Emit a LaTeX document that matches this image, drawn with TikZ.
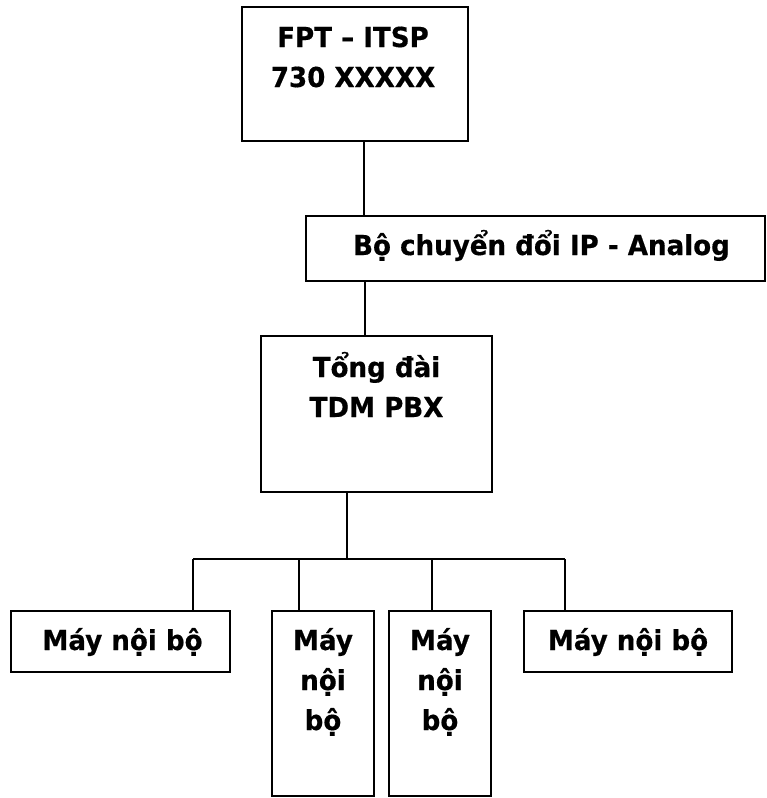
\documentclass[tikz,border=0pt]{standalone}
\usepackage{fontspec}
\setmainfont{DejaVu Sans}[FakeStretch=0.95, BoldFeatures={FakeBold=0.5}]
\usetikzlibrary{calc}
\begin{document}
\begin{tikzpicture}[x=1pt,y=-1pt,
  box/.style={draw, line width=2pt, inner sep=0pt, outer sep=0pt, anchor=north west},
  lbl/.style={font=\bfseries\fontsize{27.5}{40}\selectfont, align=center, anchor=base, inner sep=0pt},
  wire/.style={line width=1.5pt}]
\useasboundingbox (0,0) rectangle (767,798);
% boxes
\node[box, minimum width=226pt, minimum height=134pt] (fpt) at (242,7) {};
\node[box, minimum width=459pt, minimum height=65pt] (conv) at (306,216) {};
\node[box, minimum width=231pt, minimum height=156pt] (pbx) at (261,336) {};
\node[box, minimum width=219pt, minimum height=61pt] (ma) at (11,611) {};
\node[box, minimum width=102pt, minimum height=185pt] (mb) at (272,611) {};
\node[box, minimum width=102pt, minimum height=185pt] (mc) at (389,611) {};
\node[box, minimum width=208pt, minimum height=61pt] (md) at (524,611) {};
% labels (base anchor = baseline of last line)
\node[lbl] (fptt) at ($(fpt.north)+(-2,80)$) {FPT – ITSP\\730 XXXXX};
\node[lbl] (convt) at ($(conv.north)+(6,39)$) {Bộ chuyển đổi IP - Analog};
\node[lbl] (pbxt) at ($(pbx.north)+(0,81)$) {Tổng đài\\TDM PBX};
\node[lbl] (mat) at ($(ma.north)+(2,39)$) {Máy nội bộ};
\node[lbl] (mbt) at ($(mb.north)+(0,119)$) {Máy\\nội\\bộ};
\node[lbl] (mct) at ($(mc.north)+(0,119)$) {Máy\\nội\\bộ};
\node[lbl] (mdt) at ($(md.north)+(0,39)$) {Máy nội bộ};
% connectors
\draw[wire] ([xshift=9pt]fpt.south) -- ([xshift=9pt]fpt.south |- conv.north);
\draw[wire] ([xshift=-170.5pt]conv.south) -- ([xshift=-170.5pt]conv.south |- pbx.north);
\coordinate (tap) at (347,559);
\coordinate (busL) at (193,559);
\coordinate (bus2) at (299,559);
\coordinate (bus3) at (432,559);
\coordinate (busR) at (565,559);
\draw[wire] (pbx.south -| tap) -- (tap);
\draw[wire] (busL) -- (busR);
\draw[wire] (busL) -- (busL |- ma.north);
\draw[wire] (bus2) -- (bus2 |- mb.north);
\draw[wire] (bus3) -- (bus3 |- mc.north);
\draw[wire] (busR) -- (busR |- md.north);
\end{tikzpicture}
\end{document}
